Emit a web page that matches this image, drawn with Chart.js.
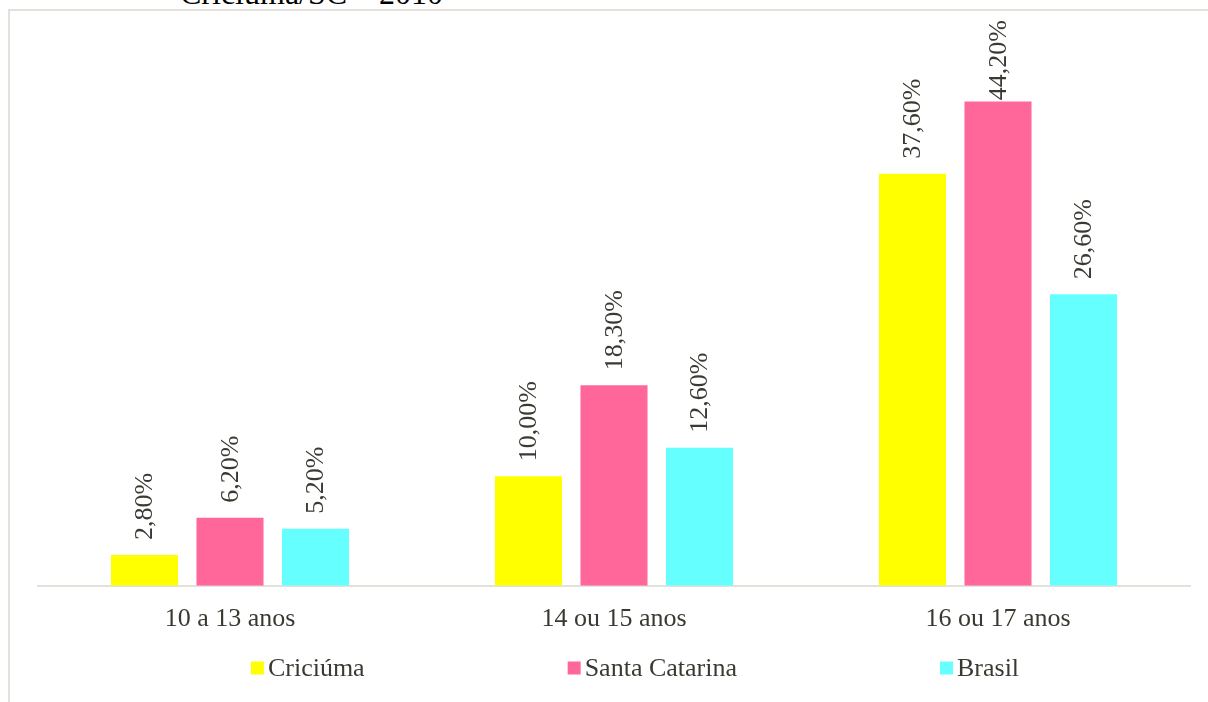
<!DOCTYPE html>
<html lang="pt">
<head>
    <meta charset="UTF-8">
    <title>Faixa etária - Criciúma/SC 2010</title>
    <script src="https://cdn.jsdelivr.net/npm/chart.js"></script>
    <style>
        body { margin: 0; background: #fff; overflow: hidden; }
        #wrap { position: relative; width: 1208px; height: 702px; }
        #title {
            position: absolute; left: 180px; top: -23px;
            font: 32px "Liberation Serif", "Times New Roman", serif;
            line-height: 32px; color: #000; white-space: nowrap;
        }
        #frame {
            position: absolute; left: 8px; top: 9px; width: 1210px; height: 700px;
            border-top: 2px solid #e3e1da; border-left: 2px solid #e3e1da;
        }
        canvas { position: absolute; left: 0; top: 0; }
    </style>
</head>
<body>
<div id="wrap">
    <div id="title">Criciúma/SC – 2010</div>
    <div id="frame"></div>
    <canvas id="grafico" width="1208" height="702"></canvas>
</div>

<script>
    const categorias = ['10 a 13 anos', '14 ou 15 anos', '16 ou 17 anos'];
    const criciuma = [2.8, 10.0, 37.6];
    const santaCatarina = [6.2, 18.3, 44.2];
    const brasil = [5.2, 12.6, 26.6];

    const fonte = '"Liberation Serif", "Times New Roman", serif';
    const corTexto = '#3a3a33';

    function fmt(v) {
        return v.toFixed(2).replace('.', ',') + '%';
    }

    // rotated value labels above each bar
    const rotulos = {
        id: 'rotulos',
        afterDatasetsDraw(chart) {
            const ctx = chart.ctx;
            ctx.save();
            ctx.font = '26px ' + fonte;
            ctx.fillStyle = corTexto;
            ctx.textAlign = 'left';
            ctx.textBaseline = 'middle';
            chart.data.datasets.forEach((ds, i) => {
                chart.getDatasetMeta(i).data.forEach((bar, j) => {
                    const txt = fmt(ds.data[j]);
                    const w = ctx.measureText(txt).width;
                    let y = bar.y - 15;
                    if (y - w < 20) y = 20 + w;
                    ctx.save();
                    ctx.translate(bar.x + 1, y);
                    ctx.rotate(-Math.PI / 2);
                    ctx.fillText(txt, 0, 0);
                    ctx.restore();
                });
            });
            ctx.restore();
        }
    };

    // legend spread out like the original
    const legenda = {
        id: 'legenda',
        afterDraw(chart) {
            const ctx = chart.ctx;
            const gap = 203, box = 13;
            ctx.save();
            ctx.font = '26px ' + fonte;
            ctx.textBaseline = 'middle';
            const itens = chart.data.datasets.map(ds => ({
                label: ds.label, cor: ds.backgroundColor,
                w: box + 4 + ctx.measureText(ds.label).width
            }));
            const total = itens.reduce((s, it) => s + it.w, 0) + gap * (itens.length - 1);
            const area = chart.chartArea;
            let x = (area.left + area.right) / 2 + 21 - total / 2;
            const y = 668;
            itens.forEach(it => {
                ctx.fillStyle = it.cor;
                ctx.fillRect(x, y - box / 2, box, box);
                ctx.fillStyle = corTexto;
                ctx.fillText(it.label, x + box + 4, y + 1);
                x += it.w + gap;
            });
            ctx.restore();
        }
    };

    new Chart(document.getElementById('grafico'), {
        type: 'bar',
        data: {
            labels: categorias,
            datasets: [
                { label: 'Criciúma', data: criciuma, backgroundColor: '#FFFF00' },
                { label: 'Santa Catarina', data: santaCatarina, backgroundColor: '#FF6699' },
                { label: 'Brasil', data: brasil, backgroundColor: '#66FFFF' }
            ]
        },
        options: {
            responsive: false,
            animation: false,
            events: [],
            layout: { padding: { left: 38, right: 18, top: 38, bottom: 49 } },
            datasets: { bar: { categoryPercentage: 0.668, barPercentage: 0.784 } },
            plugins: {
                legend: { display: false },
                tooltip: { enabled: false }
            },
            scales: {
                x: {
                    grid: { display: false, drawTicks: false },
                    border: { color: '#e3e1da', width: 2 },
                    ticks: { color: corTexto, font: { family: fonte, size: 26 }, padding: 18 }
                },
                y: {
                    display: false,
                    min: 0,
                    max: 50
                }
            }
        },
        plugins: [rotulos, legenda]
    });
</script>
</body>
</html>
